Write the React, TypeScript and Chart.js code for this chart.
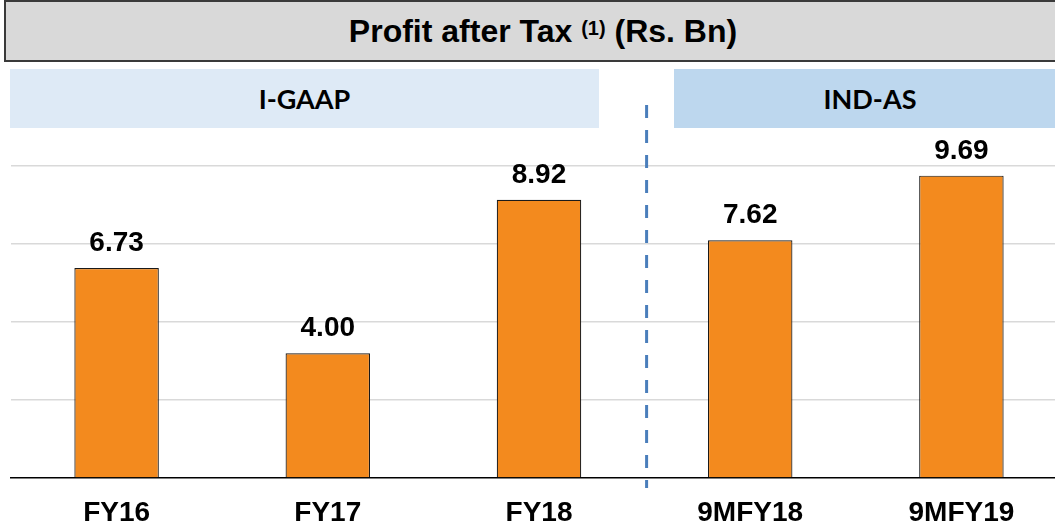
import React, { useEffect, useRef } from "react";
import { Chart, registerables } from "chart.js";

Chart.register(...registerables);

// ---- data ----
const categories = ["FY16", "FY17", "FY18", "9MFY18", "9MFY19"];
const profitValues = [6.73, 4.0, 8.92, 7.62, 9.69];
const valueLabels = ["6.73", "4.00", "8.92", "7.62", "9.69"];
const titleMain = "Profit after Tax";
const titleNote = "(1)";
const titleUnit = "(Rs. Bn)";
const groupLabels = ["I-GAAP", "IND-AS"];
const yMin = 0;
const yMax = 10;
const yStep = 2.5;
const dividerAfterIndex = 2;

const CANVAS_W = 1080;
const CANVAS_H = 560;
const FONT = "'Liberation Sans', Arial, Helvetica, sans-serif";

const valueLabelPlugin = {
  id: "valueLabels",
  afterDatasetsDraw(chart: any) {
    const ctx = chart.ctx;
    const meta = chart.getDatasetMeta(0);
    ctx.save();
    ctx.font = `bold 28px ${FONT}`;
    ctx.fillStyle = "#000000";
    ctx.textAlign = "center";
    ctx.textBaseline = "alphabetic";
    meta.data.forEach((bar: any, i: number) => {
      ctx.fillText(valueLabels[i], bar.x, bar.y - 17);
    });
    ctx.restore();
  },
};

const dividerPlugin = {
  id: "divider",
  afterDraw(chart: any) {
    const ctx = chart.ctx;
    const xs = chart.scales.x;
    const px = (xs.getPixelForValue(dividerAfterIndex) + xs.getPixelForValue(dividerAfterIndex + 1)) / 2 + 2;
    ctx.save();
    ctx.beginPath();
    ctx.setLineDash([13, 12]);
    ctx.strokeStyle = "#4A7EBB";
    ctx.lineWidth = 3;
    ctx.moveTo(px, 105);
    ctx.lineTo(px, chart.chartArea.bottom + 10);
    ctx.stroke();
    ctx.restore();
  },
};

export default function App() {
  const canvasRef = useRef<HTMLCanvasElement | null>(null);

  useEffect(() => {
    if (!canvasRef.current) return;
    const chart = new Chart(canvasRef.current, {
      type: "bar",
      data: {
        labels: categories,
        datasets: [
          {
            data: profitValues,
            backgroundColor: "#F38A1E",
            borderColor: "#1A1A1A",
            borderWidth: 1.2,
            barPercentage: 0.4,
            categoryPercentage: 1,
          },
        ],
      },
      options: {
        animation: false,
        responsive: false,
        events: [],
        layout: {
          padding: { top: 166, left: 11, right: CANVAS_W - 1067, bottom: CANVAS_H - 478 - 48 },
        },
        plugins: {
          legend: { display: false },
          tooltip: { enabled: false },
          title: { display: false },
        },
        scales: {
          x: {
            grid: { display: false, drawTicks: false },
            border: { display: true, color: "#000000", width: 1.5 },
            ticks: {
              padding: 18,
              color: "#000000",
              font: { family: FONT, size: 28, weight: "bold" },
            },
            afterFit: (scale: any) => {
              scale.height = 48;
            },
          },
          y: {
            min: yMin,
            max: yMax,
            ticks: { display: false, stepSize: yStep },
            grid: {
              drawTicks: false,
              lineWidth: 1.5,
              color: (c: any) => (c.tick && c.tick.value === 0 ? "rgba(0,0,0,0)" : "#D9D9D9"),
            },
            border: { display: false },
          },
        },
      },
      plugins: [valueLabelPlugin, dividerPlugin],
    });
    return () => chart.destroy();
  }, []);

  return (
    <div
      style={{
        position: "absolute",
        left: 0,
        top: 0,
        width: 1055,
        height: 526,
        overflow: "hidden",
        background: "#ffffff",
      }}
    >
      <canvas
        ref={canvasRef}
        width={CANVAS_W}
        height={CANVAS_H}
        style={{ position: "absolute", left: 0, top: 0, display: "block" }}
      />
      <div
        style={{
          position: "absolute",
          left: 4,
          top: 0,
          width: 1074,
          height: 58,
          background: "#D9D9D9",
          border: "2px solid #3A3A3A",
          boxSizing: "content-box",
          display: "flex",
          alignItems: "center",
          justifyContent: "center",
          fontFamily: FONT,
          fontWeight: "bold",
          fontSize: 32,
          color: "#000",
          whiteSpace: "nowrap",
        }}
      >
        <span>
          {titleMain} <sup style={{ fontSize: 20, verticalAlign: "7px", lineHeight: 0 }}>{titleNote}</sup> {titleUnit}
        </span>
      </div>
      <div
        style={{
          position: "absolute",
          left: 10,
          top: 69,
          width: 589,
          height: 59,
          background: "#DEEAF6",
          display: "flex",
          alignItems: "center",
          justifyContent: "center",
          fontFamily: "Lato, 'Open Sans', sans-serif",
          fontWeight: "bold",
          fontSize: 27,
          color: "#000",
        }}
      >
        {groupLabels[0]}
      </div>
      <div
        style={{
          position: "absolute",
          left: 674,
          top: 69,
          width: 392,
          height: 59,
          background: "#BDD7EE",
          display: "flex",
          alignItems: "center",
          justifyContent: "center",
          fontFamily: "Lato, 'Open Sans', sans-serif",
          fontWeight: "bold",
          fontSize: 27,
          color: "#000",
        }}
      >
        {groupLabels[1]}
      </div>
    </div>
  );
}
